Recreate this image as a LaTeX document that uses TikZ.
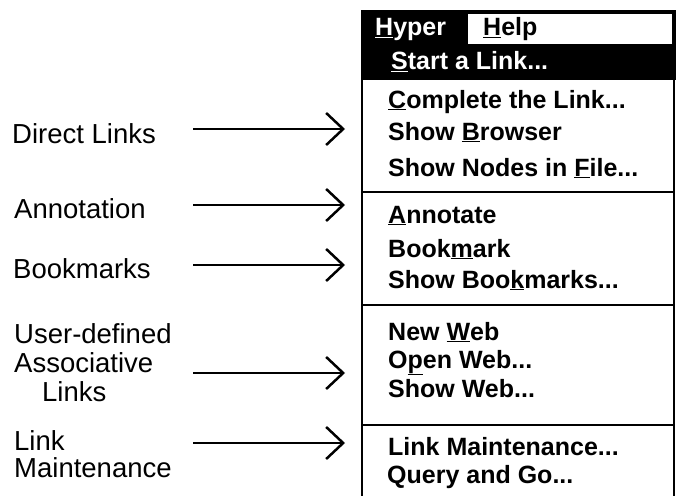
\documentclass[tikz,border=0pt]{standalone}
\usepackage{fontspec}
\setmainfont{Liberation Sans}
\usetikzlibrary{arrows.meta}

\begin{document}
\begin{tikzpicture}[x=1pt,y=-1pt,
  lab/.style={font=\fontsize{27.5}{29}\selectfont,anchor=base west,inner sep=0pt,align=left},
  item/.style={font=\fontsize{25}{28}\selectfont\bfseries,anchor=base west,inner sep=0pt},
  hot/.style={item,text=white},
  rim/.style={line width=2.5pt},
  sep/.style={line width=2pt},
  fwd/.style={-{Straight Barb[length=17pt,width=32pt]},line width=2.5pt}]
\useasboundingbox (0,0) rectangle (676,495);
% menu frame
\fill (361,10) rectangle (676,80);
\filldraw[fill=white,draw=black,line width=1.5pt] (467,13) rectangle (673,45);
\draw[rim] (362,79) -- (362,500);
\draw[rim] (674,79) -- (674,500);
\draw[sep] (362,192) -- (674,192);
\draw[sep] (362,305) -- (674,305);
\draw[sep] (362,425) -- (674,425);
% menu entries
\node[hot] (hyper) at (375,36) {\underline{H}yper};
\node[item] (help) at (483,36) {\underline{H}elp};
\node[hot] (start) at (391,70) {\underline{S}tart a Link...};
\node[item] (complete) at (388,108) {\underline{C}omplete the Link...};
\node[item] (browser) at (388,140) {Show \underline{B}rowser};
\node[item] (nodesfile) at (388,176) {Show Nodes in \underline{F}ile...};
\node[item] (annotate) at (388,223) {\underline{A}nnotate};
\node[item] (bookmark) at (388,257) {Book\underline{m}ark};
\node[item] (showbm) at (388,288) {Show Boo\underline{k}marks...};
\node[item] (newweb) at (388,340) {New \underline{W}eb};
\node[item] (openweb) at (388,368) {O\underline{p}en Web...};
\node[item] (showweb) at (388,397) {Show Web...};
\node[item] (linkmaint) at (388,455) {Link Maintenance...};
\node[item] (query) at (387,483) {Query and Go...};
% feature labels
\node[lab] (direct) at (12,143) {Direct Links};
\node[lab] (annot) at (14,218) {Annotation};
\node[lab] (bmarks) at (13,278) {Bookmarks};
\node[lab] (assoc) at (14,401) {User-defined\\Associative\\\hspace*{28pt}Links};
\node[lab] (maint) at (14,477) {Link\\[-2pt]Maintenance};
% arrows
\coordinate (d0) at (193,129); \coordinate (d1) at (345,129);
\coordinate (a0) at (193,205); \coordinate (a1) at (345,205);
\coordinate (b0) at (193,265); \coordinate (b1) at (345,265);
\coordinate (u0) at (193,373); \coordinate (u1) at (345,373);
\coordinate (m0) at (193,443); \coordinate (m1) at (345,443);
\draw[fwd] (d0) -- (d1);
\draw[fwd] (a0) -- (a1);
\draw[fwd] (b0) -- (b1);
\draw[fwd] (u0) -- (u1);
\draw[fwd] (m0) -- (m1);
\end{tikzpicture}
\end{document}
